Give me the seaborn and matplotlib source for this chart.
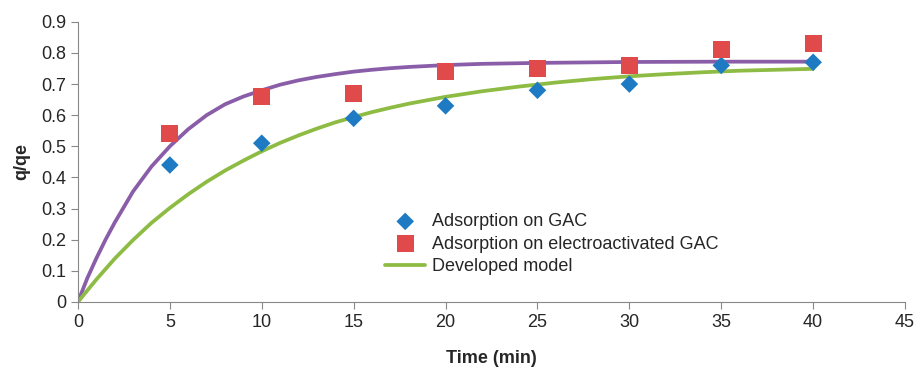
import numpy as np
import seaborn as sns
import matplotlib.pyplot as plt
import pandas as pd

# measured points
time_pts = [5, 10, 15, 20, 25, 30, 35, 40]
gac = [0.44, 0.51, 0.59, 0.63, 0.68, 0.70, 0.76, 0.77]
electro_gac = [0.54, 0.66, 0.67, 0.74, 0.75, 0.76, 0.81, 0.83]

# model curves
green_t = [0, 1, 2, 3, 4, 5, 6, 7, 8, 9, 10, 11, 12, 13, 14, 15, 16, 17, 18, 19, 20,
           22, 24, 26, 28, 30, 32, 34, 36, 38, 40]
green_q = [0, 0.072, 0.139, 0.199, 0.254, 0.302, 0.346, 0.386, 0.422, 0.454, 0.484, 0.511,
           0.535, 0.557, 0.577, 0.594, 0.610, 0.624, 0.637, 0.648, 0.659, 0.677, 0.692,
           0.705, 0.716, 0.725, 0.732, 0.738, 0.743, 0.746, 0.749]
purple_t = [0, 0.5, 1, 1.5, 2, 3, 4, 5, 6, 7, 8, 9, 10, 11, 12, 13, 14, 15, 16, 17, 18,
            20, 22, 25, 30, 35, 40]
purple_q = [0, 0.075, 0.14, 0.2, 0.255, 0.355, 0.435, 0.50, 0.555, 0.60, 0.635, 0.66, 0.68,
            0.698, 0.712, 0.723, 0.732, 0.74, 0.746, 0.751, 0.755, 0.761, 0.765, 0.768,
            0.771, 0.772, 0.772]

sns.set_style("white")
plt.rcParams['font.family'] = ['Liberation Sans', 'DejaVu Sans']

fig = plt.figure(figsize=(9.17, 3.7), dpi=100)
ax = fig.add_axes([0.085, 0.184, 0.902, 0.757])

pts = pd.DataFrame({'t': time_pts, 'gac': gac, 'egac': electro_gac})

sns.lineplot(x=purple_t, y=purple_q, ax=ax, color='#8A5DA8', linewidth=2.7, legend=False,
             solid_joinstyle='round')
sns.lineplot(x=green_t, y=green_q, ax=ax, color='#8DBB43', linewidth=2.7, label='Developed model',
             solid_joinstyle='round')
sns.scatterplot(data=pts, x='t', y='gac', ax=ax, marker='D', s=80, color='#1E7BC3',
                edgecolor='none', label='Adsorption on GAC', zorder=4)
sns.scatterplot(data=pts, x='t', y='egac', ax=ax, marker='s', s=150, color='#E04A4A',
                edgecolor='none', label='Adsorption on electroactivated GAC', zorder=4)

ax.set_xlim(0, 45)
ax.set_ylim(0, 0.9)
ax.set_xticks(np.arange(0, 46, 5))
ax.set_yticks(np.round(np.arange(0, 0.91, 0.1), 1))
ax.set_yticklabels(['0'] + [f'{v:.1f}' for v in np.arange(0.1, 0.91, 0.1)])
ax.tick_params(axis='both', labelsize=13, length=5, color='#888888', direction='out',
               bottom=True, left=True)
ax.set_xlabel('Time (min)', fontsize=13, fontweight='bold', labelpad=14)
ax.set_ylabel('q/qe', fontsize=13, fontweight='bold', labelpad=8)
sns.despine(ax=ax)
for s in ['left', 'bottom']:
    ax.spines[s].set_color('#888888')

h, l = ax.get_legend_handles_labels()
order = [l.index('Adsorption on GAC'), l.index('Adsorption on electroactivated GAC'), l.index('Developed model')]
ax.legend([h[i] for i in order], [l[i] for i in order], loc='upper left',
          bbox_to_anchor=(0.352, 0.375), frameon=False, fontsize=13,
          handlelength=2.2, handletextpad=0.4, labelspacing=0.3)

plt.savefig('out.png', dpi=100)
